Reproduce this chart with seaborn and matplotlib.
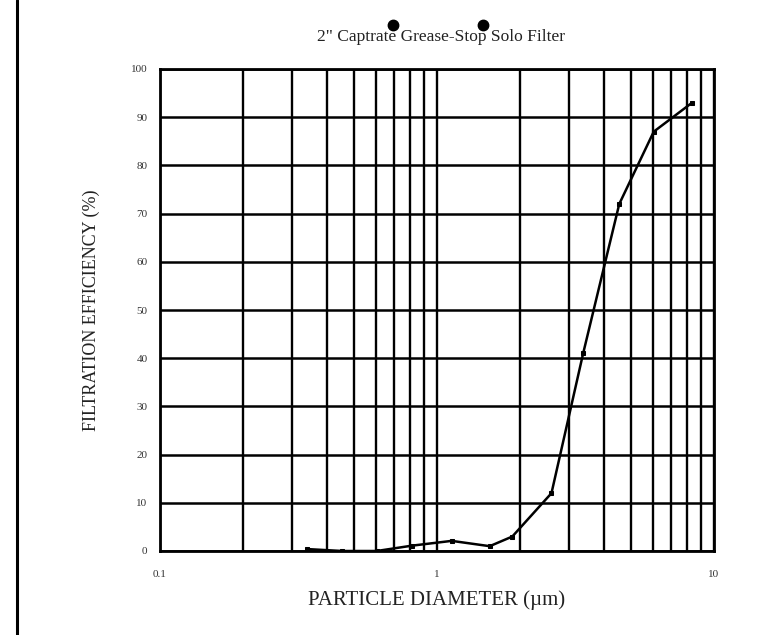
import matplotlib
matplotlib.use("Agg")
import matplotlib.pyplot as plt
import seaborn as sns
import pandas as pd
import numpy as np
from matplotlib.ticker import NullFormatter, FixedLocator, FixedFormatter

diameter_um = [0.34, 0.455, 0.606, 0.81, 1.13, 1.55, 1.87, 2.59, 3.37, 4.55, 6.06, 8.33]
efficiency_pct = [0.4, 0.0, 0.0, 1.1, 2.1, 1.0, 3.0, 12.0, 41.0, 72.0, 87.0, 93.0]
x_tick_values = [0.1, 1, 10]
x_tick_labels = ["0.1", "1", "10"]
y_tick_values = [0, 10, 20, 30, 40, 50, 60, 70, 80, 90, 100]

sns.set_theme(style="white")
plt.rcParams['font.family'] = ['Liberation Serif', 'DejaVu Serif']

df = pd.DataFrame({"d": diameter_um, "e": efficiency_pct})

fig = plt.figure(figsize=(7.83, 6.35), dpi=100)
ax = fig.add_axes([160/783, 84/635, 554/783, 482/635])

ax.set_xscale("log")
ax.set_xlim(0.1, 10)
ax.set_ylim(0, 100)

# grid lines
minor_x = [m * 10.0**k for k in (-1, 0) for m in range(1, 10)] + [10]
for xv in minor_x:
    ax.axvline(xv, color="black", lw=1.7, zorder=1)
for yv in y_tick_values:
    ax.axhline(yv, color="black", lw=1.8, zorder=1)

sns.lineplot(data=df, x="d", y="e", ax=ax, color="black", lw=1.8,
             marker="s", markersize=3.2, markeredgecolor="black", zorder=3)

ax.xaxis.set_major_locator(FixedLocator(x_tick_values))
ax.xaxis.set_major_formatter(FixedFormatter(x_tick_labels))
ax.xaxis.set_minor_formatter(NullFormatter())
ax.set_yticks(y_tick_values)
ax.set_yticklabels([str(v) for v in y_tick_values])
ax.tick_params(axis="both", which="both", length=0, labelsize=8, labelcolor="#333333")
ax.tick_params(axis="y", pad=9)
ax.tick_params(axis="x", pad=14)

for s in ax.spines.values():
    s.set_visible(True)
    s.set_color("black")
    s.set_linewidth(2)

ax.set_xlabel("PARTICLE DIAMETER (µm)", fontsize=15, color="#222222", labelpad=8)
ax.set_ylabel("FILTRATION EFFICIENCY (%)", fontsize=13, color="#222222", labelpad=22)

fig.text(441/783, 1 - 37/635, "2\" Captrate Grease-Stop Solo Filter", ha="center", va="center",
         fontsize=12.5, color="#222222")
# decorative dots above the subtitle
for px in (393, 483):
    fig.add_artist(plt.Line2D([px/783], [1 - 25/635], marker="o", markersize=7.5,
                              color="black", markerfacecolor="black", linestyle="none",
                              transform=fig.transFigure))

# left border line
fig.add_artist(plt.Line2D([17/783, 17/783], [0, 1], color="black", lw=2.2, transform=fig.transFigure))

fig.savefig("out.png", dpi=100)
